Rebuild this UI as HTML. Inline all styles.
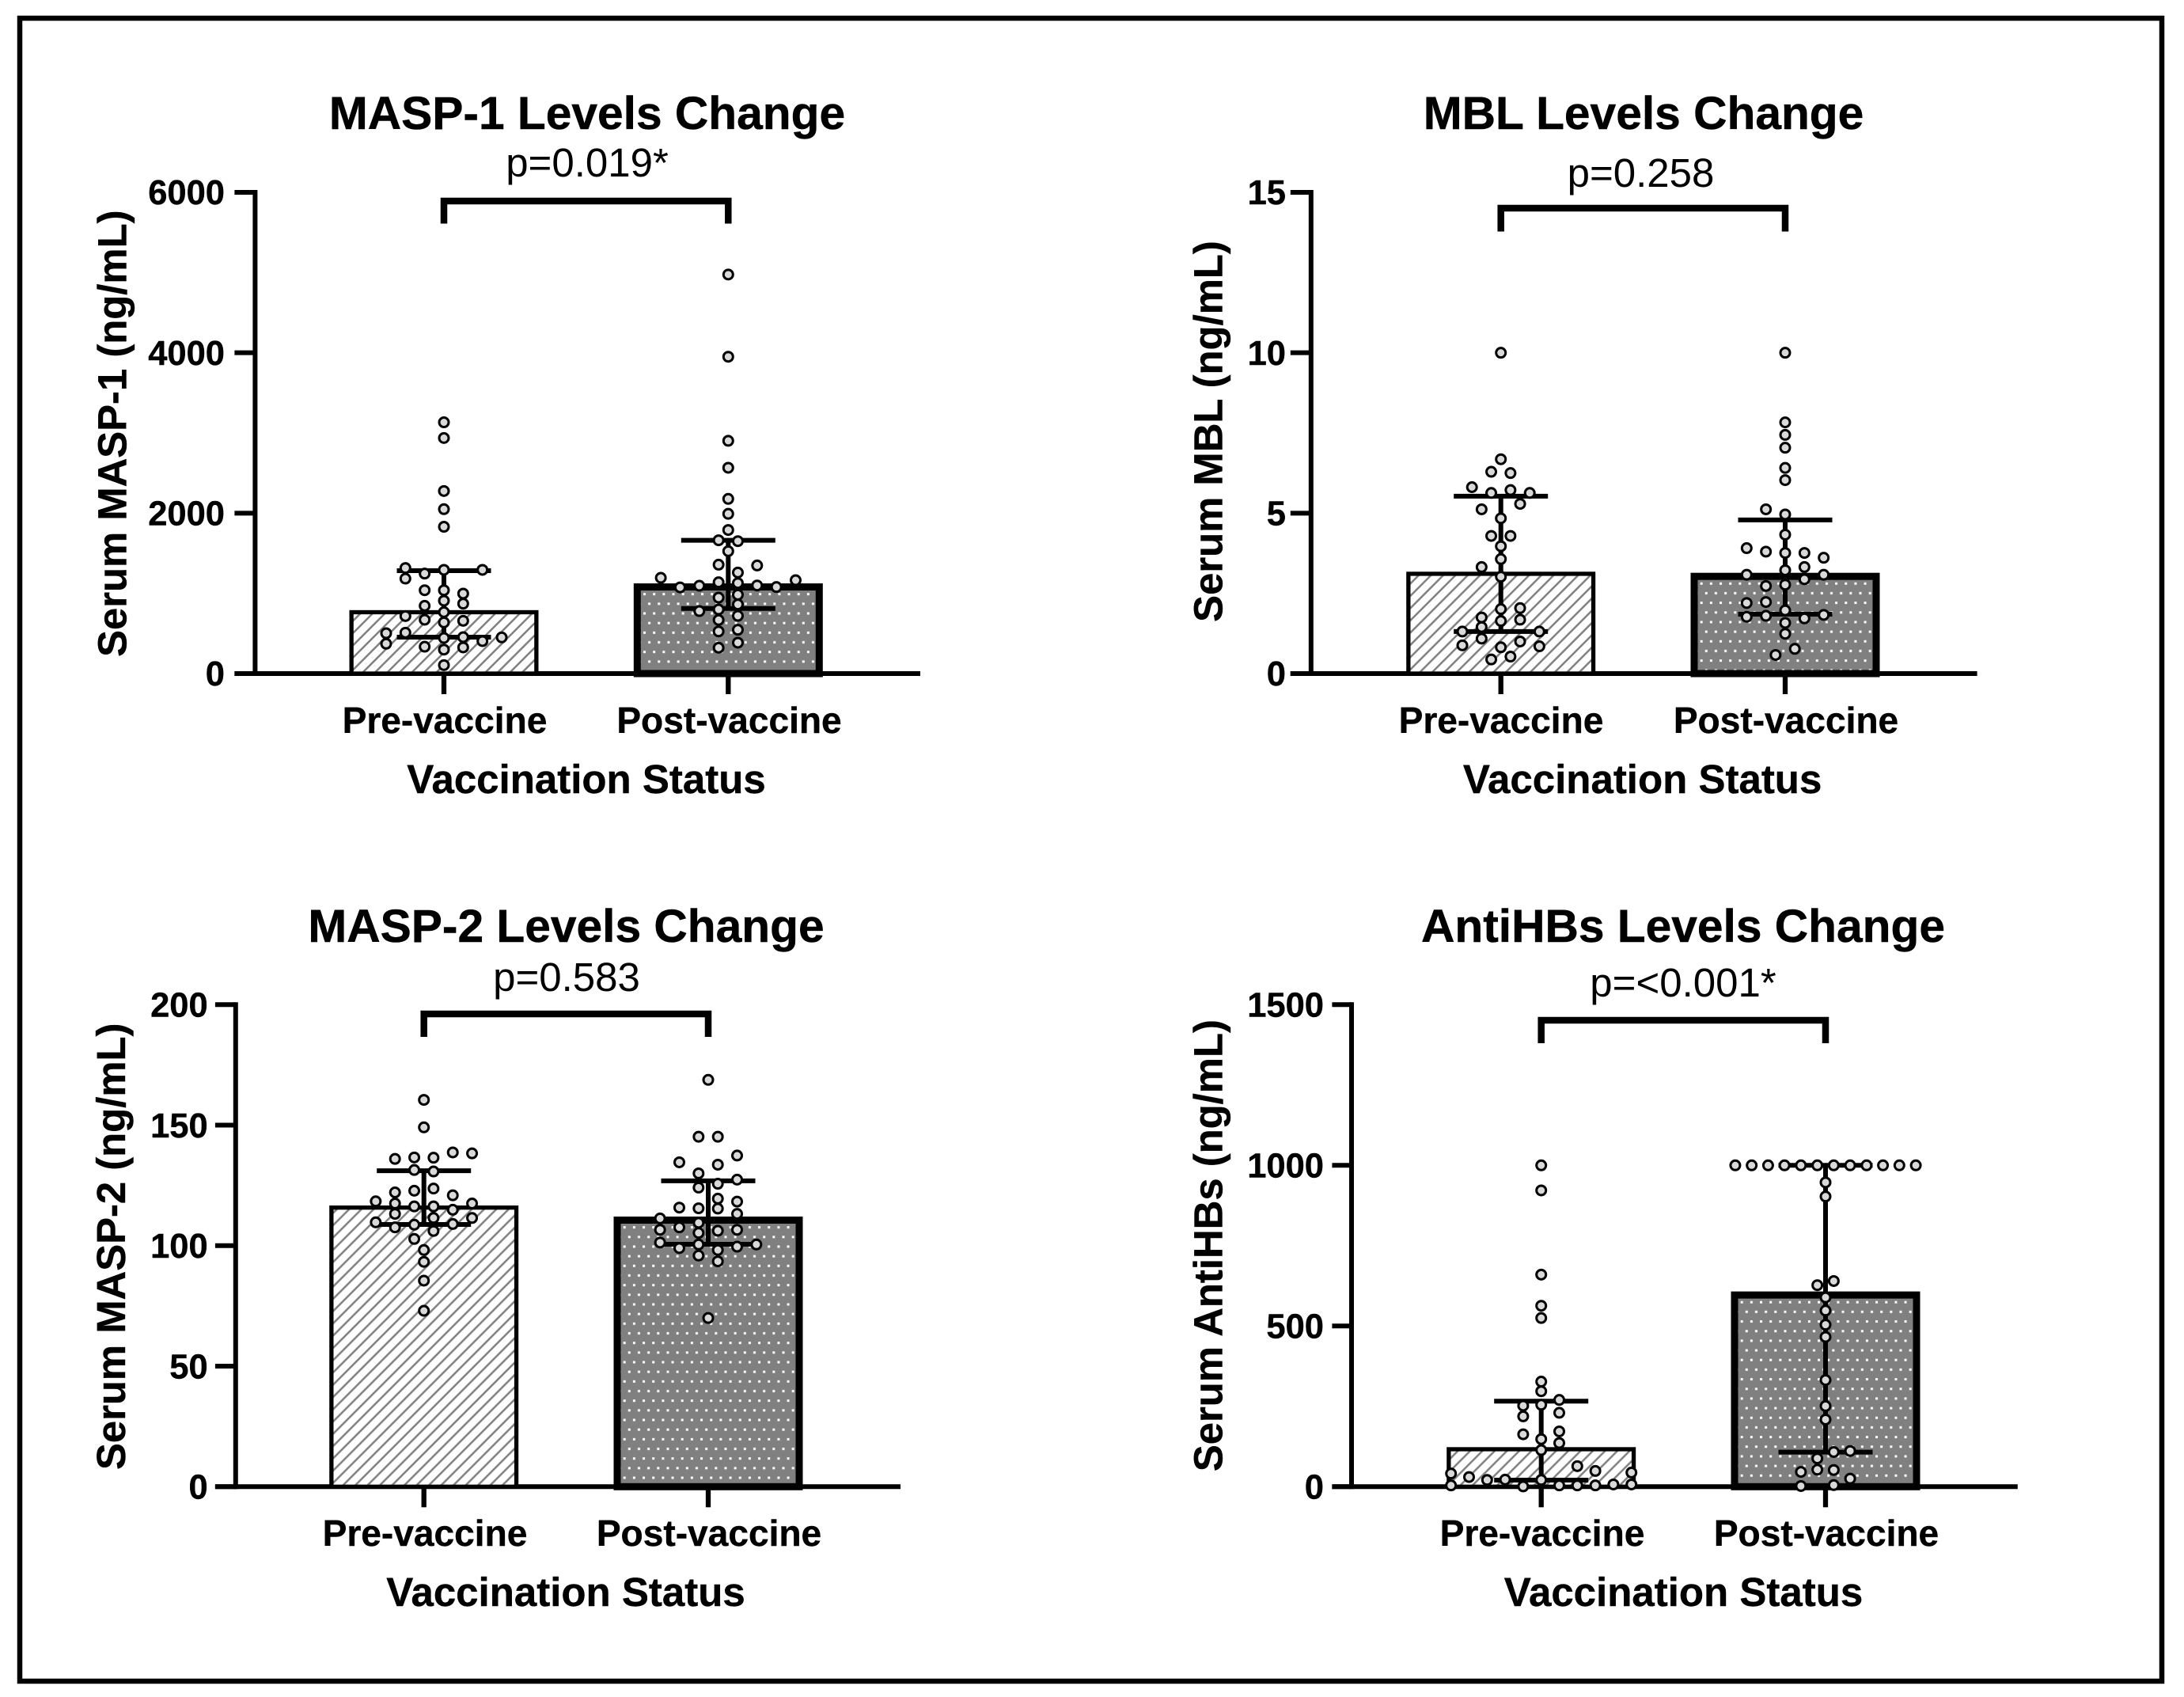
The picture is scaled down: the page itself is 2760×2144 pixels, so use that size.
<!DOCTYPE html>
<html lang="en">
<head>
<meta charset="utf-8">
<title>Serum levels pre and post vaccination</title>
<style>
html,body{margin:0;padding:0;background:#fff;}
svg{display:block;}
text{font-family:"Liberation Sans",Arial,sans-serif;fill:#000;}
.title{font-size:58.7px;font-weight:700;text-anchor:middle;stroke:#000;stroke-width:.5px;}
.pval{font-size:51px;font-weight:400;text-anchor:middle;}
.cat{font-size:46.1px;font-weight:700;text-anchor:middle;stroke:#000;stroke-width:.4px;}
.xt{font-size:51px;font-weight:700;text-anchor:middle;stroke:#000;stroke-width:.4px;}
.yt{font-size:50.8px;font-weight:700;text-anchor:middle;stroke:#000;stroke-width:.4px;}
.tick{font-size:43.5px;font-weight:700;text-anchor:end;stroke:#000;stroke-width:.4px;}
</style>
</head>
<body>
<svg id="figure" xmlns="http://www.w3.org/2000/svg" width="2760" height="2144" viewBox="0 0 2760 2144">
  <defs id="fill-patterns"></defs>
  <rect x="0" y="0" width="2760" height="2144" fill="#fff"/>
  <rect x="25" y="23" width="2707" height="2101" fill="none" stroke="#000" stroke-width="6.5"/>

  <g id="panel-masp1">
    <text class="title" x="742" y="163">MASP-1 Levels Change</text>
    <text class="pval" x="742" y="223">p=0.019*</text>
    <text class="yt" transform="translate(159.6,547.7) rotate(-90)">Serum MASP-1 (ng/mL)</text>
    <text class="cat" x="562" y="926">Pre-vaccine</text>
    <text class="cat" x="921.5" y="926">Post-vaccine</text>
    <text class="xt" x="741" y="1002">Vaccination Status</text>
  </g>

  <g id="panel-mbl">
    <text class="title" x="2077" y="163">MBL Levels Change</text>
    <text class="pval" x="2073.5" y="236">p=0.258</text>
    <text class="yt" transform="translate(1544.5,545) rotate(-90)">Serum MBL (ng/mL)</text>
    <text class="cat" x="1897" y="926">Pre-vaccine</text>
    <text class="cat" x="2257" y="926">Post-vaccine</text>
    <text class="xt" x="2075.6" y="1002">Vaccination Status</text>
  </g>

  <g id="panel-masp2">
    <text class="title" x="715.5" y="1190">MASP-2 Levels Change</text>
    <text class="pval" x="716" y="1252">p=0.583</text>
    <text class="yt" transform="translate(158,1574.8) rotate(-90)">Serum MASP-2 (ng/mL)</text>
    <text class="cat" x="537" y="1953">Pre-vaccine</text>
    <text class="cat" x="896" y="1953">Post-vaccine</text>
    <text class="xt" x="715" y="2029">Vaccination Status</text>
  </g>

  <g id="panel-antihbs">
    <text class="title" x="2127" y="1190">AntiHBs Levels Change</text>
    <text class="pval" x="2127" y="1259">p=&lt;0.001*</text>
    <text class="yt" transform="translate(1544.5,1573.6) rotate(-90)">Serum AntiHBs (ng/mL)</text>
    <text class="cat" x="1949" y="1953">Pre-vaccine</text>
    <text class="cat" x="2308" y="1953">Post-vaccine</text>
    <text class="xt" x="2127.5" y="2029">Vaccination Status</text>
  </g>
</svg>

<script>
// ---------- data ----------
const masp1Ticks = [0, 2000, 4000, 6000];
const masp1BarValues = [765, 1080];
const masp1ErrorHigh = [1283, 1661];
const masp1ErrorLow = [454, 812];
const masp1PreValues = [3133,2937,2276,2050,1830,1316,1293,1293,1247,1184,1039,1039,997,908,872,845,766,717,671,658,638,503,510,444,454,405,451,372,335,326,299,105];
const masp1PreColumns = [0,0,0,0,0,-4,4,0,-2,-4,-2,0,2,0,2,-2,0,-4,-2,2,0,-6,-4,0,2,4,6,-6,-2,2,0,0];
const masp1PostValues = [4975,3950,2902,2566,2178,1992,1790,1662,1651,1526,1358,1348,1260,1194,1164,1138,1128,1095,1098,1075,1079,983,947,862,799,779,720,668,546,526,385,322];
const masp1PostColumns = [0,0,0,0,0,0,0,-1,1,0,-1,3,1,-7,7,-1,1,-3,3,-5,5,1,-1,1,-1,-3,1,-1,1,-1,1,-1];

const mblTicks = [0, 5, 10, 15];
const mblBarValues = [3.11, 3.03];
const mblErrorHigh = [5.53, 4.79];
const mblErrorLow = [1.31, 1.85];
const mblPreValues = [10,6.68,6.29,6.25,5.81,5.63,5.72,5.63,5.29,5.12,4.84,4.29,4.29,3.97,3.57,3.32,3.02,2.01,2.04,1.75,1.64,1.68,1.45,1.31,1.31,1.09,1.0,0.88,0.85,0.82,0.53,0.44];
const mblPreColumns = [0,0,-1,1,-3,-1,1,3,2,-2,0,-1,1,0,0,-2,0,0,2,-2,0,2,-2,-4,4,-2,2,-4,4,0,1,-1];
const mblPostValues = [10,7.83,7.44,7.04,6.41,6.03,5.12,4.96,4.33,3.91,3.80,3.76,3.76,3.61,3.32,3.22,3.08,3.08,2.94,2.77,2.73,2.23,2.20,1.97,1.83,1.80,1.77,1.72,1.58,1.24,0.77,0.58];
const mblPostColumns = [0,0,0,0,0,0,-2,0,0,-4,-2,0,2,4,2,0,-4,4,2,0,-2,-2,-4,0,4,-2,-4,2,0,0,1,-1];

const masp2Ticks = [0, 50, 100, 150, 200];
const masp2BarValues = [115.8, 110.6];
const masp2ErrorHigh = [131.1, 126.9];
const masp2ErrorLow = [108.8, 100.6];
const masp2PreValues = [160.5,149.1,138.7,138.3,136,136.6,136.5,131.4,130.8,123.7,122.8,122.1,120.9,118.4,117.5,117.5,116.3,116.3,114.9,113.2,111.5,111.5,109.7,109,108.7,107.6,106.1,102.8,98.2,93.3,85.5,73];
const masp2PreColumns = [0,0,3,5,-3,-1,1,-1,1,1,-1,-3,3,-5,-3,5,-1,1,3,-3,1,5,-5,3,-1,-3,1,-1,0,0,0,0];
const masp2PostValues = [168.8,145.2,145.2,137.4,134.6,133.6,130,127.4,124.1,125.7,119.5,118.3,115.8,115.4,115.5,113.2,111.3,109.5,107.6,106.6,106.6,106.2,105.3,101.3,100.5,100.5,99.6,99,98.2,95.9,93.5,70];
const masp2PostColumns = [0,-1,1,3,-3,1,-1,3,-1,1,1,3,-3,1,-1,3,-5,-1,-3,-5,3,1,-1,-5,5,-1,3,-3,1,-1,1,0];

const antihbsTicks = [0, 500, 1000, 1500];
const antihbsBarValues = [116.6, 596.5];
const antihbsErrorHigh = [266, 1000];
const antihbsErrorLow = [20.5, 107.6];
const antihbsPreValues = [1000,922,660,563,525,327,297,270,252,255,230,219,172,163,148,136,114,64,49,41,44,30,21,22,21,4,1,4,4,4,7,7];
const antihbsPreColumns = [0,0,0,0,0,0,0,2,-2,0,2,-2,2,-2,0,2,0,4,6,-10,10,-8,-6,-4,0,-10,-2,2,4,6,8,10];
const antihbsPostValues = [1000,1000,1000,1000,1000,1000,1000,1000,1000,1000,1000,1000,947,903,640,627,589,548,504,466,332,251,209,111,108,88,53,52,46,25,2,5];
const antihbsPostColumns = [-11,-9,-7,-5,-3,-1,1,3,5,7,9,11,0,0,1,-1,0,0,0,0,0,0,0,3,1,-1,-1,1,-3,3,-3,1];

// ---------- panel layout (pixels) ----------
const panels = [
  {id:'masp1', axisX:322.4, tickLeft:296.4, xEnd:1163, preX:561, postX:920.3, yTop:243, yBase:851, labelRight:284, bracketTop:254, bracketBottom:282.5, max:6000,
   ticks:masp1Ticks, bars:masp1BarValues, hi:masp1ErrorHigh, lo:masp1ErrorLow,
   points:[masp1PreValues, masp1PostValues], columns:[masp1PreColumns, masp1PostColumns], step:[12.17, 12.17]},
  {id:'mbl', axisX:1656.8, tickLeft:1630.8, xEnd:2498.6, preX:1896.7, postX:2256, yTop:243, yBase:851, labelRight:1625, bracketTop:263, bracketBottom:292.5, max:15,
   ticks:mblTicks, bars:mblBarValues, hi:mblErrorHigh, lo:mblErrorLow,
   points:[mblPreValues, mblPostValues], columns:[mblPreColumns, mblPostColumns], step:[12.17, 12.17]},
  {id:'masp2', axisX:297.8, tickLeft:271.9, xEnd:1138, preX:535.7, postX:895, yTop:1269.3, yBase:1878.3, labelRight:262.7, bracketTop:1281, bracketBottom:1310, max:200,
   ticks:masp2Ticks, bars:masp2BarValues, hi:masp2ErrorHigh, lo:masp2ErrorLow,
   points:[masp2PreValues, masp2PostValues], columns:[masp2PreColumns, masp2PostColumns], step:[12.17, 12.17]},
  {id:'antihbs', axisX:1708, tickLeft:1683.4, xEnd:2549.8, preX:1947.7, postX:2307, yTop:1269.3, yBase:1878.3, labelRight:1673, bracketTop:1289, bracketBottom:1318, max:1500,
   ticks:antihbsTicks, bars:antihbsBarValues, hi:antihbsErrorHigh, lo:antihbsErrorLow,
   points:[antihbsPreValues, antihbsPostValues], columns:[antihbsPreColumns, antihbsPostColumns], step:[11.4, 10.37]}
];
const seriesNames = ['pre', 'post'];

// ---------- drawing ----------
const NS = 'http://www.w3.org/2000/svg';
const BAR_OUTER_WIDTH = 239;
const BAR_STROKES = [5.3, 9];
const CAP_WIDTH = 119;
const defs = document.getElementById('fill-patterns');

function mk(tag, attrs, parent) {
  const el = document.createElementNS(NS, tag);
  for (const k in attrs) el.setAttribute(k, attrs[k]);
  parent.appendChild(el);
  return el;
}

function hatchPattern(id, left, bottom) {
  const size = 15.5;
  const p = mk('pattern', {id:id, patternUnits:'userSpaceOnUse', width:size, height:size, x:left, y:bottom}, defs);
  mk('rect', {x:0, y:0, width:size, height:size, fill:'#fff'}, p);
  mk('path', {d:'M-2 ' + (size+2) + 'L' + (size+2) + ' -2M-2 2L2 -2M' + (size-2) + ' ' + (size+2) + 'L' + (size+2) + ' ' + (size-2), stroke:'#808080', 'stroke-width':2.5, fill:'none'}, p);
}

function dotPattern(id, left, top) {
  const w = 12.17, h = 24.34;
  const p = mk('pattern', {id:id, patternUnits:'userSpaceOnUse', width:w, height:h, x:left + 12.2, y:top + 12.1}, defs);
  mk('rect', {x:0, y:0, width:w, height:h, fill:'#808080'}, p);
  mk('rect', {x:0, y:0, width:3, height:3, fill:'#fff'}, p);
  mk('rect', {x:w/2, y:h/2, width:3, height:3, fill:'#fff'}, p);
}

panels.forEach(function (cfg) {
  const root = document.getElementById('panel-' + cfg.id);
  const yScale = function (v) { return cfg.yBase - (v / cfg.max) * (cfg.yBase - cfg.yTop); };
  const xScale = function (i) { return i === 0 ? cfg.preX : cfg.postX; };

  // axes
  const yAxis = mk('line', {x1:cfg.axisX, x2:cfg.axisX, y1:cfg.yTop - 3, y2:cfg.yBase + 3, stroke:'#000', 'stroke-width':6}, root);
  
  
  const xAxis = mk('line', {x1:cfg.tickLeft, x2:cfg.xEnd, y1:cfg.yBase, y2:cfg.yBase, stroke:'#000', 'stroke-width':6}, root);
  
  

  cfg.ticks.forEach(function (t) {
    const y = yScale(t);
    const mark = mk('line', {x1:cfg.tickLeft, x2:cfg.axisX, y1:y, y2:y, stroke:'#000', 'stroke-width':6}, root);
    
    
    const label = mk('text', {class:'tick', x:cfg.labelRight, y:y + 15.2}, root);
    label.textContent = String(t);
    
    
  });

  seriesNames.forEach(function (name, i) {
    const cx = xScale(i);
    const sw = BAR_STROKES[i];
    const left = cx - BAR_OUTER_WIDTH / 2;
    const top = yScale(cfg.bars[i]);

    const xTick = mk('line', {x1:cx, x2:cx, y1:cfg.yBase, y2:cfg.yBase + 26, stroke:'#000', 'stroke-width':6.3}, root);
    
    

    const patId = 'fill-' + cfg.id + '-' + name;
    if (i === 0) hatchPattern(patId, left, cfg.yBase);
    else dotPattern(patId, left, top - sw / 2);

    const bar = mk('rect', {x:left + sw / 2, y:top, width:BAR_OUTER_WIDTH - sw, height:Math.max(0, cfg.yBase - top), fill:'url(#' + patId + ')', stroke:'#000', 'stroke-width':sw}, root);
    
    

    const yHi = yScale(cfg.hi[i]);
    const yLo = yScale(cfg.lo[i]);
    const err = mk('path', {d:'M' + cx + ' ' + yHi + 'V' + yLo + 'M' + (cx - CAP_WIDTH / 2) + ' ' + yHi + 'H' + (cx + CAP_WIDTH / 2) + 'M' + (cx - CAP_WIDTH / 2) + ' ' + yLo + 'H' + (cx + CAP_WIDTH / 2), fill:'none', stroke:'#000', 'stroke-width':6}, root);
    
    
  });

  seriesNames.forEach(function (name, i) {
    cfg.points[i].forEach(function (v, k) {
      const dot = mk('circle', {cx:xScale(i) + cfg.columns[i][k] * cfg.step[i], cy:yScale(v), r:6, fill:'#d9d9d9', stroke:'#000', 'stroke-width':3}, root);
      
      
    });
  });

  const bracket = mk('path', {d:'M' + xScale(0) + ' ' + cfg.bracketBottom + 'V' + cfg.bracketTop + 'H' + xScale(1) + 'V' + cfg.bracketBottom, fill:'none', stroke:'#000', 'stroke-width':8.5}, root);
  
  
});
</script>
</body>
</html>
